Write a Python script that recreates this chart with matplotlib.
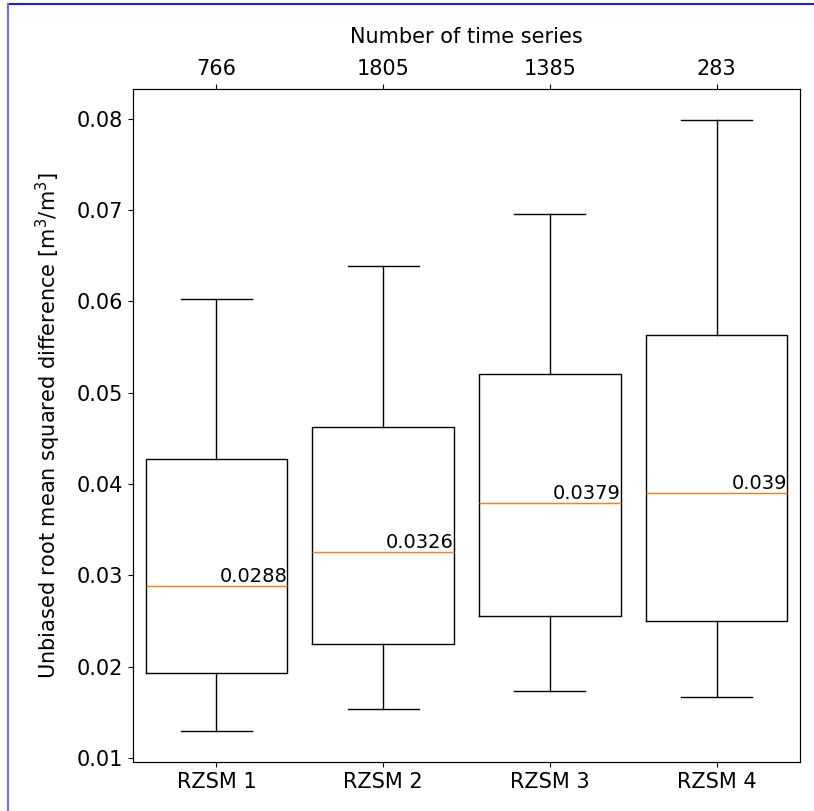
import numpy as np
import matplotlib
matplotlib.use('Agg')
from matplotlib import pyplot as plt
from matplotlib.lines import Line2D

# box statistics
labels = ['RZSM 1', 'RZSM 2', 'RZSM 3', 'RZSM 4']
n_series = ['766', '1805', '1385', '283']
whislo = [0.0129, 0.0154, 0.0173, 0.0167]
q1 = [0.0193, 0.0225, 0.0255, 0.0250]
med = [0.0288, 0.0326, 0.0379, 0.039]
q3 = [0.0427, 0.0462, 0.0520, 0.0563]
whishi = [0.0603, 0.0639, 0.0696, 0.0799]

stats = []
for i in range(len(labels)):
    stats.append({'label': labels[i], 'whislo': whislo[i], 'q1': q1[i], 'med': med[i],
                  'q3': q3[i], 'whishi': whishi[i], 'fliers': []})

fig = plt.figure(figsize=(8.14, 8.11), dpi=100)
ax = fig.add_axes([133/814, 1-762/811, 667/814, 673/811])

w = 0.85
ax.bxp(stats, widths=w, showfliers=False)

# median value written at the right end of each box
for i in range(len(labels)):
    ax.text(i + 1 + w/2, med[i], str(med[i]), ha='right', va='bottom', fontsize=14)

ax.tick_params(labelsize=15)
ax.set_ylabel('Unbiased root mean squared difference [m$^3$/m$^3$]', fontsize=15, labelpad=10)

top = ax.twiny()
top.set_xlim(ax.get_xlim())
top.set_xticks(ax.get_xticks())
top.set_xticklabels(n_series)
top.tick_params(labelsize=15)
top.set_xlabel('Number of time series', fontsize=15, labelpad=12)

# blue frame seen on the top and left edges of the picture
fig.add_artist(Line2D([8/814, 1], [1-4/811, 1-4/811], color='#1a1aff', lw=1.5, transform=fig.transFigure))
fig.add_artist(Line2D([8/814, 8/814], [0, 1-4/811], color='#6a6aff', lw=1.5, transform=fig.transFigure))

plt.savefig('out.png', dpi=100)
